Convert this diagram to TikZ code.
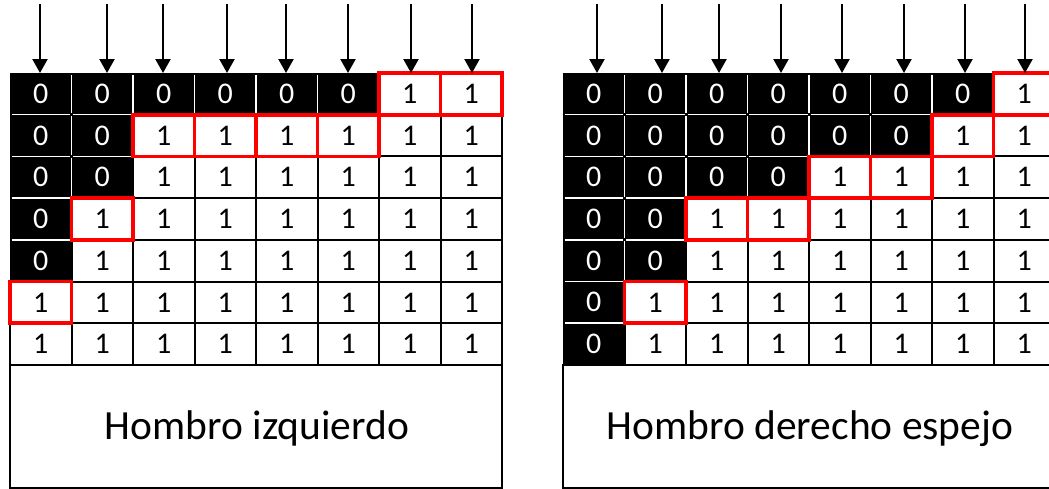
\documentclass[tikz,border=0pt]{standalone}
\usepackage{fontspec}
\setmainfont{Carlito}
\usetikzlibrary{arrows.meta}
\tikzset{
  base/.style={minimum width=61.5pt, minimum height=41.7pt, inner sep=0pt, outer sep=0pt,
    font=\fontsize{30}{30}\selectfont},
  cell0/.style={base, fill=black, text=white},
  cell1/.style={base, fill=white, draw=black, line width=2pt, text=black},
  cell/.code={\ifnum#1=0\relax\pgfkeysalso{cell0}\else\pgfkeysalso{cell1}\fi},
  sep/.style={draw=white, line width=1.5pt, shorten <=1.5pt, shorten >=1.5pt},
  redbox/.style={draw=red, line width=3.8pt},
  arr/.style={draw=black, line width=2.2pt, -{Triangle[width=15pt,length=14pt]}},
  box/.style={draw=black, line width=2pt, fill=white, inner sep=0pt, outer sep=0pt,
    minimum width=492pt, minimum height=123pt, anchor=north west},
  title/.style={font=\fontsize{41.5}{41.5}\selectfont, anchor=base, inner sep=0pt}
}
\newcommand\mygrid[3]{%
  \foreach \row [count=\rr] in {#3} {
    \foreach \v [count=\cc] in \row {
      \node[cell=\v] (#1-\rr-\cc) at ({#2+(\cc-0.5)*61.5}, {73+(\rr-0.5)*41.7}) {\raisebox{-2pt}{\v}};
    }
  }
  \foreach \row [count=\rr] in {#3} {
    \foreach \v [count=\cc] in \row {
      \ifnum\v=0\relax
        \ifnum\cc>1\relax \draw[sep] (#1-\rr-\cc.north west) -- (#1-\rr-\cc.south west); \fi
        \ifnum\rr>1\relax \draw[sep] (#1-\rr-\cc.north west) -- (#1-\rr-\cc.north east); \fi
      \fi
    }
  }
}
\begin{document}
\begin{tikzpicture}[x=1pt, y=-1pt]
  \useasboundingbox (0,0) rectangle (1049,488);
  \fill[white] (0,0) rectangle (1049,488);
  \clip (0,0) rectangle (1049,488);

  % left grid
  \mygrid{L}{10}{{0,0,0,0,0,0,1,1},{0,0,1,1,1,1,1,1},{0,0,1,1,1,1,1,1},{0,1,1,1,1,1,1,1},{0,1,1,1,1,1,1,1},{1,1,1,1,1,1,1,1},{1,1,1,1,1,1,1,1}}
  % right grid
  \mygrid{R}{563}{{0,0,0,0,0,0,0,1},{0,0,0,0,0,0,1,1},{0,0,0,0,1,1,1,1},{0,0,1,1,1,1,1,1},{0,0,1,1,1,1,1,1},{0,1,1,1,1,1,1,1},{0,1,1,1,1,1,1,1}}

  % red highlights
  \foreach \p in {1-7,1-8,2-3,2-4,2-5,2-6,4-2,6-1}
    \draw[redbox] (L-\p.north west) rectangle (L-\p.south east);
  \foreach \p in {1-8,2-7,3-5,3-6,4-3,4-4,6-2}
    \draw[redbox] (R-\p.north west) rectangle (R-\p.south east);

  % arrows
  \foreach \x [count=\i] in {40,107,163,227,286,348,411,472} {
    \coordinate (La\i) at (\x,4);
    \draw[arr] (La\i) -- (La\i |- L-1-\i.north);
  }
  \foreach \x [count=\i] in {597,662,719,781,842,904,965,1025} {
    \coordinate (Ra\i) at (\x,4);
    \draw[arr] (Ra\i) -- (Ra\i |- R-1-\i.north);
  }

  % caption boxes
  \node[box] (LB) at (L-7-1.south west) {};
  \node[box] (RB) at (R-7-1.south west) {};
  \node[title] (LT) at (257,439) {Hombro izquierdo};
  \node[title] (RT) at (810,439) {Hombro derecho espejo};
\end{tikzpicture}
\end{document}
